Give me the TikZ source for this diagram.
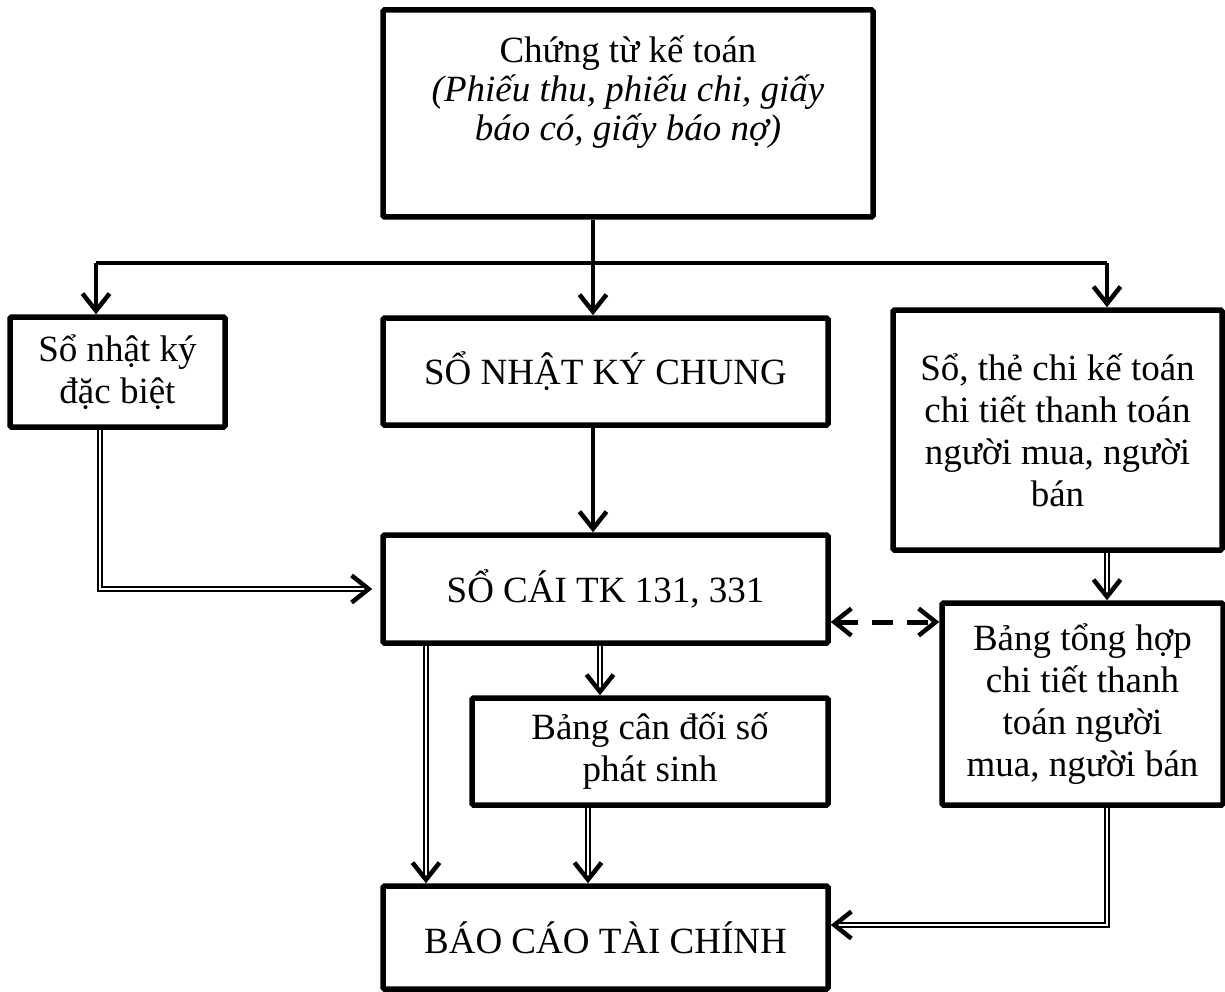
\documentclass[tikz,border=0pt]{standalone}
\usepackage{fontspec}
\setmainfont{Liberation Serif}
\usetikzlibrary{arrows.meta,calc}
\tikzset{
  box/.style={draw=black, line width=5.5pt, rounded corners=1.5pt, fill=white, align=center, inner sep=0pt,
    font=\fontsize{37}{42}\selectfont},
  txt/.style={align=center, inner sep=0pt, font=\fontsize{37}{39}\selectfont},
  tip/.style={-{Straight Barb[length=17pt,width=27pt,line width=4.5pt]}},
  conn/.style={tip, line width=4.5pt},
  dconn/.style={-{Straight Barb[length=17pt,width=27pt,line width=4.5pt]}, double=white, double distance=2.2pt, line width=1.6pt},
  dashconn/.style={{Straight Barb[length=17pt,width=27pt,line width=4.5pt]}-{Straight Barb[length=17pt,width=27pt,line width=4.5pt]}, line width=5pt, dash pattern=on 21pt off 14pt},
}
\begin{document}
\begin{tikzpicture}[x=1pt,y=-1pt]
\useasboundingbox (0,0) rectangle (1225,992);
% boxes
\node[box, minimum width=490pt, minimum height=207pt] (top) at (628,113.5) {};
\node[txt] (toptext) at (628,92) {Chứng từ kế toán\\\textit{(Phiếu thu, phiếu chi, giấy}\\\textit{báo có, giấy báo nợ)}};
\node[box, minimum width=215pt, minimum height=110pt] (left) at (117.5,372) {Sổ nhật ký\\đặc biệt};
\node[box, minimum width=445pt, minimum height=107pt] (nkc) at (605.5,371.5) {SỔ NHẬT KÝ CHUNG};
\node[box, minimum width=329pt, minimum height=240pt] (rtop) at (1057.5,430) {Sổ, thẻ chi kế toán\\chi tiết thanh toán\\người mua, người\\bán};
\node[box, minimum width=445pt, minimum height=108pt] (socai) at (605.5,589) {SỔ CÁI TK 131, 331};
\node[box, minimum width=281pt, minimum height=202pt] (tonghop) at (1082.5,704) {Bảng tổng hợp\\chi tiết thanh\\toán người\\mua, người bán};
\node[box, minimum width=356pt, minimum height=107pt] (candoi) at (650,751.5) {Bảng cân đối số\\phát sinh};
\node[box, minimum width=445pt, minimum height=103pt] (baocao) at (605.5,937.5) {BÁO CÁO TÀI CHÍNH};
% helper coordinates
\coordinate (split) at (593,263);
\coordinate (lx) at (96,263);
\coordinate (rx) at (1107,263);
\coordinate (dashy) at (0,622);
\coordinate (turn) at (1107,925);
% connectors
\draw[line width=4.5pt] (top.south -| split) -- (split);
\draw[line width=4.5pt] (lx) -- (rx);
\draw[conn] (split) -- (nkc.north -| split);
\draw[conn] (lx) -- (left.north -| lx);
\draw[conn] (rx) -- (rtop.north -| rx);
\draw[conn] (nkc.south -| split) -- (socai.north -| split);
\draw[dconn, shorten >=8pt] (left.south -| 100,0) |- (socai.west);
\draw[dconn] (rtop.south -| rx) -- (tonghop.north -| rx);
\draw[dashconn] (socai.east |- dashy) -- (tonghop.west |- dashy);
\draw[dconn] (socai.south -| 600,0) -- (candoi.north -| 600,0);
\draw[dconn] (socai.south -| 426,0) -- (baocao.north -| 426,0);
\draw[dconn] (candoi.south -| 588,0) -- (baocao.north -| 588,0);
\draw[dconn] (tonghop.south -| turn) -- (turn) -- (baocao.east |- turn);
\end{tikzpicture}
\end{document}
